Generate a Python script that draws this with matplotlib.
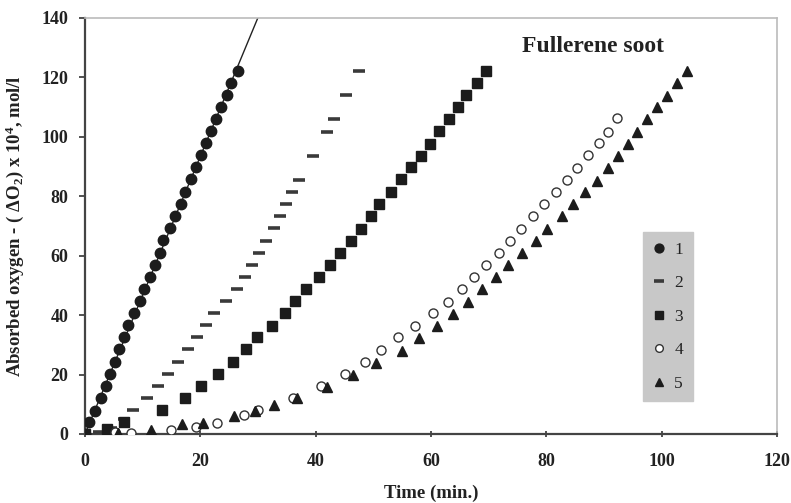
import numpy as np
import matplotlib
matplotlib.use("Agg")
import matplotlib.pyplot as plt

plt.rcParams['font.family'] = ['Liberation Serif', 'DejaVu Serif']
plt.rcParams['font.weight'] = 'bold'
plt.rcParams['mathtext.fontset'] = 'custom'
plt.rcParams['mathtext.rm'] = 'Liberation Serif:bold'
plt.rcParams['mathtext.it'] = 'Liberation Serif:bold'
plt.rcParams['mathtext.bf'] = 'Liberation Serif:bold'

# curve 1 - filled circles
t1 = [0, 0.75, 1.73, 2.7, 3.6, 4.4, 5.2, 5.9, 6.8, 7.5, 8.5, 9.5, 10.3, 11.3, 12.1, 13.0,
      13.6, 14.7, 15.6, 16.6, 17.4, 18.3, 19.2, 20.1, 21.0, 21.8, 22.8, 23.6, 24.7, 25.3, 26.45]
y1 = [0, 3.9, 7.8, 12.0, 16.2, 20.2, 24.3, 28.5, 32.5, 36.6, 40.6, 44.8, 48.8, 52.9, 56.9, 60.8,
      65.3, 69.3, 73.5, 77.5, 81.6, 85.8, 89.7, 93.9, 97.9, 102.0, 105.9, 110.0, 114.0, 118.2, 122.2]

# curve 2 - dashes
t2 = [0, 2.5, 4.5, 6.8, 8.3, 10.7, 12.7, 14.4, 16.2, 17.9, 19.4, 20.9, 22.4, 24.4, 26.4,
      27.8, 28.9, 30.2, 31.4, 32.8, 33.8, 34.9, 35.9, 37.1, 39.5, 41.9, 43.2, 45.3, 47.6]
y2 = [0, 0.8, 2.0, 5.0, 8.1, 12.1, 16.2, 20.2, 24.2, 28.5, 32.5, 36.6, 40.6, 44.8, 48.8,
      52.8, 56.9, 61.0, 65.1, 69.2, 73.4, 77.4, 81.5, 85.5, 93.6, 101.7, 105.9, 114.1, 122.3]

# curve 3 - filled squares
t3 = [0, 3.9, 6.8, 13.4, 17.3, 20.2, 23.1, 25.7, 28.0, 29.9, 32.4, 34.7, 36.5, 38.4, 40.5, 42.5,
      44.2, 46.1, 47.8, 49.6, 50.9, 53.1, 54.8, 56.5, 58.3, 59.8, 61.4, 63.1, 64.6, 66.1, 67.9, 69.5]
y3 = [0, 1.6, 4.1, 8.0, 12.1, 16.2, 20.2, 24.3, 28.5, 32.6, 36.5, 40.6, 44.8, 48.8, 52.9, 56.9,
      61.0, 65.1, 69.1, 73.3, 77.4, 81.6, 85.7, 89.7, 93.7, 97.7, 101.9, 105.9, 110.0, 114.1, 118.1, 122.3]

# curve 4 - open circles
t4 = [5.2, 7.9, 14.9, 19.2, 22.9, 27.5, 30.0, 36.1, 41.0, 45.1, 48.6, 51.4, 54.3, 57.2, 60.4, 63.0,
      65.4, 67.5, 69.6, 71.8, 73.7, 75.6, 77.7, 79.6, 81.6, 83.5, 85.4, 87.3, 89.1, 90.7, 92.3]
y4 = [0.8, 0.4, 1.3, 2.5, 3.8, 6.4, 8.2, 12.1, 16.2, 20.2, 24.1, 28.4, 32.5, 36.5, 40.6, 44.5,
      48.8, 52.7, 56.9, 61.0, 65.1, 69.1, 73.4, 77.3, 81.3, 85.5, 89.6, 93.9, 97.8, 101.8, 106.3]

# curve 5 - filled triangles
t5 = [5.8, 11.4, 16.9, 20.5, 25.9, 29.4, 32.8, 36.8, 42.0, 46.4, 50.5, 54.9, 58.0, 61.0, 63.9, 66.5,
      68.9, 71.2, 73.4, 75.8, 78.2, 80.2, 82.8, 84.7, 86.7, 88.7, 90.7, 92.5, 94.2, 95.8, 97.5,
      99.2, 101.0, 102.7, 104.4]
y5 = [0.5, 1.3, 3.4, 3.8, 6.1, 7.9, 9.6, 12.0, 15.9, 20.0, 24.0, 28.1, 32.2, 36.3, 40.5, 44.5,
      48.8, 52.7, 56.9, 61.0, 65.1, 69.1, 73.4, 77.3, 81.3, 85.2, 89.4, 93.6, 97.6, 101.7, 105.9,
      110.0, 113.8, 118.0, 122.3]

labels = ['1', '2', '3', '4', '5']

fig = plt.figure(figsize=(7.91, 5.03), dpi=100)
ax = fig.add_axes([85 / 791, 1 - 434 / 503, 692 / 791, 416 / 503])

# linear fit through the origin for curve 1
a1 = np.array(t1)
b1 = np.array(y1)
k = (a1 * b1).sum() / (a1 * a1).sum()
tf = np.array([0, 35])
ax.plot(tf, k * tf, color='#222222', lw=1.0, zorder=1)

dark = '#1c1c1c'
ax.plot(t1, y1, 'o', ms=7.5, color=dark, mec=dark, label=labels[0], zorder=3)
ax.plot(t2, y2, '_', ms=8, mew=2.6, color='#3a3a3a', label=labels[1], zorder=3)
ax.plot(t3, y3, 's', ms=7, color=dark, mec=dark, label=labels[2], zorder=3)
ax.plot(t4, y4, 'o', ms=6.5, mfc='white', mec='#333333', mew=1.0, label=labels[3], zorder=3)
ax.plot(t5, y5, '^', ms=7.5, color=dark, mec=dark, label=labels[4], zorder=3)

ax.set_xlim(0, 120)
ax.set_ylim(0, 140)
ax.set_xticks(range(0, 121, 20))
ax.set_yticks(range(0, 141, 20))
ax.tick_params(axis='x', direction='inout', length=5, width=1.2, labelsize=13, pad=11, colors='#333333')
ax.tick_params(axis='y', direction='out', length=4, width=1.2, labelsize=13, pad=8, colors='#333333')
for lab in ax.get_xticklabels() + ax.get_yticklabels():
    lab.set_color('#222222')

for s in ['left', 'bottom']:
    ax.spines[s].set_color('#444444')
    ax.spines[s].set_linewidth(1.6)
for s in ['top', 'right']:
    ax.spines[s].set_color('#bbbbbb')
    ax.spines[s].set_linewidth(1.2)

ax.set_xlabel('Time (min.)', fontsize=13.5, fontweight='bold', color='#222222')
ax.xaxis.set_label_coords(0.5, -0.123)
ax.set_ylabel('Absorbed oxygen - ( ΔO$_2$) x 10$^4$, mol/l', fontsize=13.5,
              fontweight='bold', color='#222222')
ax.yaxis.set_label_coords(-0.085, 0.5)

ax.text(0.632, 0.932, 'Fullerene soot', transform=ax.transAxes, fontsize=17,
        fontweight='bold', color='#222222', ha='left', va='center')

leg = ax.legend(loc='upper left', bbox_to_anchor=(643 / 791, 1 - 232 / 503),
                bbox_transform=fig.transFigure, frameon=True, fancybox=False,
                facecolor='#c8c8c8', edgecolor='#c8c8c8', framealpha=1,
                fontsize=12.5, handlelength=0.8, handletextpad=0.45, labelspacing=1.0,
                borderpad=0.55, borderaxespad=0, markerscale=0.85)
for txt in leg.get_texts():
    txt.set_fontweight('normal')
    txt.set_color('#222222')

fig.savefig('out.png', dpi=100)
